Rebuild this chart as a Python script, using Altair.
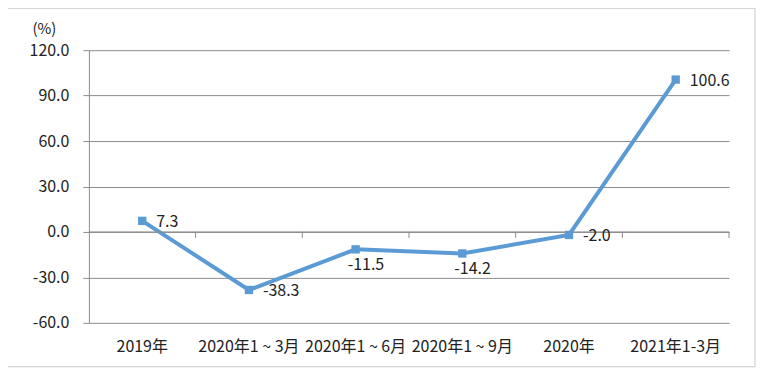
import altair as alt
import pandas as pd

categories = ["2019年", "2020年1 ~ 3月", "2020年1 ~ 6月", "2020年1 ~ 9月", "2020年", "2021年1-3月"]
values = [7.3, -38.3, -11.5, -14.2, -2.0, 100.6]
labels = ["7.3", "-38.3", "-11.5", "-14.2", "-2.0", "100.6"]
below_labels = ["2020年1 ~ 6月", "2020年1 ~ 9月"]
y_ticks = [-60, -30, 0, 30, 60, 90, 120]

df = pd.DataFrame({"cat": categories, "val": values, "lab": labels})

FONT = "Noto Sans CJK SC"
LINE_COLOR = "#5b9bd5"
W, H = 641, 273

xscale = alt.Scale(type="band", domain=categories, paddingInner=0, paddingOuter=0)
yscale = alt.Scale(domain=[-60, 120], nice=False, zero=False)

xaxis = alt.Axis(title=None, orient="bottom", ticks=False, domain=False,
                 labelFont=FONT, labelFontSize=16, labelColor="#222222",
                 labelPadding=16, labelAngle=0, labelOverlap=False)

base = alt.Chart(df)

x_mid = alt.X("cat:N", scale=xscale, bandPosition=0.5, axis=xaxis)
x_edge = alt.X("cat:N", scale=xscale, bandPosition=1, axis=xaxis)
y_enc = alt.Y("val:Q", scale=yscale,
              axis=alt.Axis(values=y_ticks, format=".1f", title="(%)", titleAngle=0,
                            labelExpr="replace(datum.label, '\u2212', '-')",
                            titleX=-45, titleY=-22, titleAlign="center", titleBaseline="middle",
                            titleFont=FONT, titleFontSize=15, titleFontWeight="normal",
                            titleColor="#222222",
                            labelFont=FONT, labelFontSize=16, labelColor="#222222",
                            labelPadding=14, tickSize=6, tickColor="#8c8c8c",
                            domainColor="#8c8c8c", grid=True, gridColor="#8c8c8c"))

frame = base.mark_rect(fill=None, stroke="#c9c9c9", strokeWidth=1).encode(
    x=alt.value(-82), x2=alt.value(W + 26), y=alt.value(-42), y2=alt.value(H + 44)
).transform_filter(alt.datum.cat == categories[0])

zero_ticks = base.mark_rule(color="#8c8c8c", strokeWidth=1, y2Offset=6).encode(
    x=x_edge,
    y=alt.datum(0, scale=yscale),
    y2=alt.datum(0),
)

zero_line = base.mark_rule(color="#8c8c8c", strokeWidth=1).encode(
    x=alt.value(0), x2=alt.value(W), y=alt.datum(0, scale=yscale)
).transform_filter(alt.datum.cat == categories[0])

line = base.mark_line(color=LINE_COLOR, strokeWidth=4).encode(x=x_mid, y=y_enc)
pts = base.mark_point(shape="square", filled=True, size=70, color=LINE_COLOR, opacity=1).encode(
    x=x_mid, y=y_enc)

txt_right = base.mark_text(align="left", baseline="middle", dx=14, dy=1, font=FONT,
                           fontSize=16, color="#222222").encode(
    x=x_mid, y=y_enc, text="lab:N"
).transform_filter(~alt.FieldOneOfPredicate(field="cat", oneOf=below_labels))

txt_below = base.mark_text(align="left", baseline="middle", dx=-8, dy=16, font=FONT,
                           fontSize=16, color="#222222").encode(
    x=x_mid, y=y_enc, text="lab:N"
).transform_filter(alt.FieldOneOfPredicate(field="cat", oneOf=below_labels))

chart = alt.layer(frame, line, zero_line, zero_ticks, pts, txt_right, txt_below).properties(
    width=W, height=H,
    autosize=alt.AutoSizeParams(type="none"),
    padding={"left": 81, "top": 42, "right": 27, "bottom": 45},
    background="white",
).configure_view(stroke=None)

chart.save("out.html", embed_options={"renderer": "svg", "actions": False})
